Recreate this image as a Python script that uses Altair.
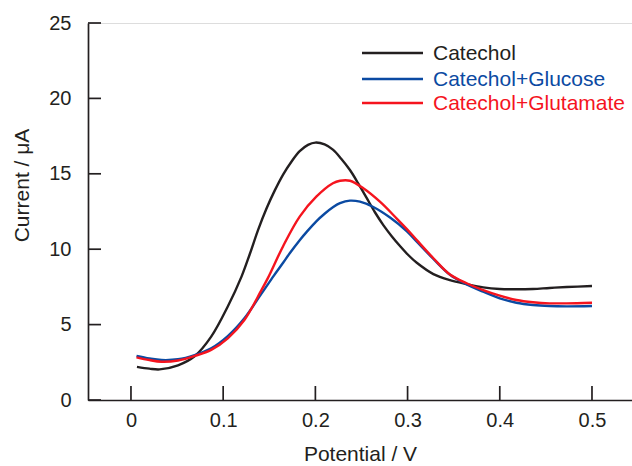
import altair as alt
import pandas as pd

# ---- data ----
cat_x = [0.0065, 0.02, 0.031, 0.051, 0.069, 0.087, 0.105, 0.12, 0.129, 0.138, 0.147, 0.156,
         0.165, 0.174, 0.183, 0.192, 0.2, 0.21, 0.219, 0.228, 0.2375, 0.2466, 0.2556, 0.2646,
         0.2737, 0.283, 0.292, 0.301, 0.31, 0.328, 0.346, 0.364, 0.382, 0.40,
         0.418, 0.436, 0.454, 0.4725, 0.5]
cat_y = [2.2, 2.08, 2.03, 2.3, 2.9, 4.2, 6.2, 8.2, 9.7, 11.3, 12.7, 13.9,
         14.95, 15.8, 16.5, 16.92, 17.07, 16.95, 16.6, 16.0, 15.25, 14.35, 13.4, 12.45,
         11.6, 10.85, 10.2, 9.6, 9.1, 8.35, 7.95, 7.69, 7.47, 7.36,
         7.34, 7.36, 7.43, 7.49, 7.56]

glc_x = [0.006, 0.02, 0.033, 0.051, 0.069, 0.087, 0.105, 0.123, 0.141, 0.155, 0.165, 0.1724,
         0.183, 0.1906, 0.201, 0.21, 0.219, 0.2267, 0.2375, 0.2484, 0.2628, 0.281, 0.299,
         0.31, 0.328, 0.346, 0.364, 0.382, 0.40, 0.418, 0.436, 0.454, 0.4725, 0.5]
glc_y = [2.92, 2.75, 2.65, 2.7, 2.98, 3.43, 4.24, 5.42, 7.0, 8.25, 9.1, 9.75,
         10.6, 11.15, 11.85, 12.35, 12.78, 13.05, 13.22, 13.15, 12.8, 12.1, 11.2,
         10.5, 9.35, 8.3, 7.67, 7.18, 6.74, 6.45, 6.3, 6.23, 6.21, 6.23]

glu_x = [0.006, 0.02, 0.033, 0.051, 0.069, 0.087, 0.105, 0.123, 0.1415, 0.1486, 0.165, 0.183,
         0.201, 0.219, 0.2267, 0.2375, 0.252, 0.27, 0.288, 0.299, 0.31, 0.328, 0.346, 0.364,
         0.382, 0.40, 0.418, 0.436, 0.454, 0.4725, 0.5]
glu_y = [2.83, 2.65, 2.54, 2.62, 2.92, 3.32, 4.09, 5.3, 7.29, 8.1, 10.2, 12.16,
         13.48, 14.37, 14.54, 14.54, 14.04, 13.15, 12.05, 11.35, 10.6, 9.4, 8.32, 7.74,
         7.29, 6.92, 6.63, 6.48, 6.41, 6.41, 6.45]

series_names = ["Catechol", "Catechol+Glucose", "Catechol+Glutamate"]
series_colors = ["#231f20", "#0b4aa2", "#f5141e"]

x_ticks = [0, 0.1, 0.2, 0.3, 0.4, 0.5]
y_ticks = [0, 5, 10, 15, 20, 25]

# ---- build table ----
rows = []
for name, xs, ys, order in [(series_names[0], cat_x, cat_y, 0),
                            (series_names[1], glc_x, glc_y, 1),
                            (series_names[2], glu_x, glu_y, 2)]:
    for xv, yv in zip(xs, ys):
        rows.append({"series": name, "x": xv, "y": yv, "o": order})
df = pd.DataFrame(rows)

FONT = "Liberation Sans"
AX = "#231f20"

xscale = alt.Scale(domain=[-0.0466, 0.5434], nice=False, zero=False)
yscale = alt.Scale(domain=[0, 25], nice=False)
cscale = alt.Scale(domain=series_names, range=series_colors)

lines = alt.Chart(df).mark_line(strokeWidth=2.4, interpolate="catmull-rom").encode(
    x=alt.X("x:Q", scale=xscale,
            axis=alt.Axis(values=x_ticks, format=".1~f", title="Potential / V",
                          ticks=False, grid=False, domainColor=AX, domainWidth=1.7,
                          labelFont=FONT, labelFontSize=20, labelColor=AX, labelPadding=10,
                          titleFont=FONT, titleFontSize=21, titleFontWeight="normal",
                          titleColor=AX, titleBaseline="alphabetic", titleY=60)),
    y=alt.Y("y:Q", scale=yscale,
            axis=alt.Axis(values=y_ticks, format="d", title="Current / μA",
                          ticks=False, grid=False, domainColor=AX, domainWidth=1.7,
                          labelFont=FONT, labelFontSize=20, labelColor=AX, labelPadding=17,
                          titleFont=FONT, titleFontSize=21, titleFontWeight="normal",
                          titleColor=AX, titleAngle=270, titleBaseline="middle",
                          titleAlign="center", titleX=-66, titleY=162)),
    color=alt.Color("series:N", scale=cscale, legend=None),
    order=alt.Order("o:Q"),
    detail="series:N",
)

# inward ticks
xt = alt.Chart(pd.DataFrame({"v": x_ticks})).mark_rule(color=AX, strokeWidth=1.7).encode(
    x=alt.X("v:Q", scale=xscale),
    y=alt.value(377), y2=alt.value(363),
)
yt = alt.Chart(pd.DataFrame({"v": y_ticks})).mark_rule(color=AX, strokeWidth=1.7).encode(
    y=alt.Y("v:Q", scale=yscale),
    x=alt.value(0), x2=alt.value(13),
)

# custom legend
leg_layers = []
leg_y = [30, 56, 80]
for name, col, ly in zip(series_names, series_colors, leg_y):
    d = pd.DataFrame({"series": [name]})
    leg_layers.append(alt.Chart(d).mark_rule(color=col, strokeWidth=2.4).encode(
        x=alt.value(274), x2=alt.value(335), y=alt.value(ly)))
    leg_layers.append(alt.Chart(d).mark_text(color=col, font=FONT, fontSize=21,
                                             align="left", baseline="middle").encode(
        text="series:N", x=alt.value(345), y=alt.value(ly + 1)))

chart = alt.layer(lines, xt, yt, *leg_layers).properties(
    width=544, height=377,
    autosize=alt.AutoSizeParams(type="none"),
    padding={"left": 88, "top": 23, "right": 0, "bottom": 66},
).configure_view(stroke=None).configure(background="white")

chart.save("out.html", embed_options={"renderer": "svg", "actions": False})
